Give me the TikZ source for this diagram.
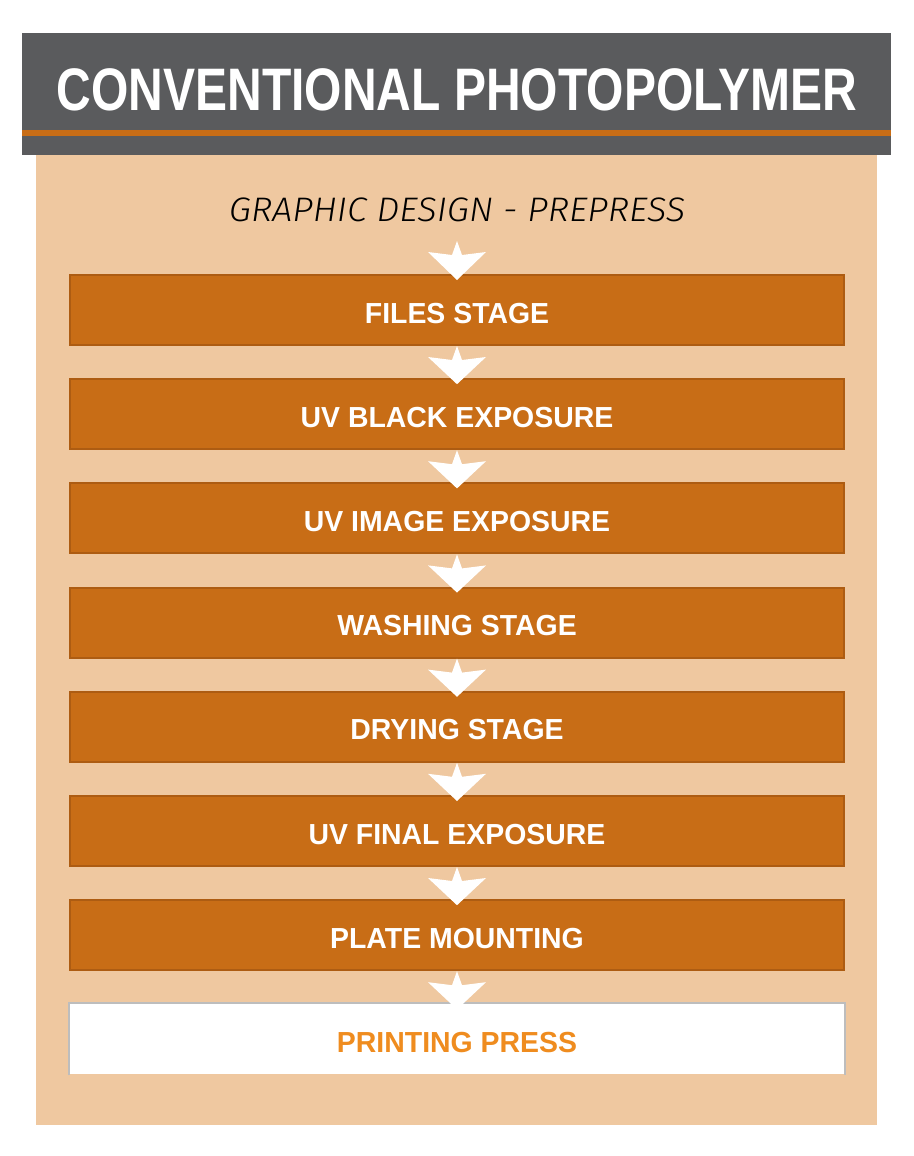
\documentclass[tikz,border=0pt]{standalone}
\usepackage{fontspec}
\setmainfont{Liberation Sans}
\newfontfamily\headfont{Liberation Sans Bold}[FakeStretch=0.80]
\newfontfamily\stagefont{Liberation Sans Bold}[FakeStretch=0.98]
\newfontfamily\subfont{Fira Sans Light Italic}[FakeStretch=1.06]
\usetikzlibrary{calc}
\definecolor{headgray}{HTML}{5A5B5D}
\definecolor{stageorange}{HTML}{C86D16}
\definecolor{stageedge}{HTML}{AD5C12}
\definecolor{panelbeige}{HTML}{EFC8A0}
\definecolor{pressorange}{HTML}{EF8C1F}
\definecolor{pressedge}{HTML}{BDBDBD}
\newcommand{\stagearrow}[2]{%
  \fill[white] (#1.south) -- ([shift={(5pt,-14pt)}]#1.south) -- ([shift={(29pt,-11pt)}]#1.south)
    -- ([shift={(0pt,-6pt)}]#2.north) -- ([shift={(-29pt,-11pt)}]#1.south)
    -- ([shift={(-5pt,-14pt)}]#1.south) -- cycle;}

\begin{document}
\begin{tikzpicture}[x=1pt,y=1pt,node distance=104.2pt,
                    stage/.style={draw=stageedge,line width=2pt,fill=stageorange,text=white,
                      minimum width=774pt,minimum height=70pt,text height=26pt,text depth=0pt,
                      font=\stagefont\fontsize{29}{29}\selectfont},
                    press/.style={stage,draw=none,fill=white,text=pressorange}]

  \useasboundingbox (0,0) rectangle (913,-1156);
  \fill[headgray] (22,-33) rectangle (891,-155);
  \fill[stageorange] (22,-130) rectangle (891,-136);
  \fill[panelbeige] (36,-155) rectangle (877,-1125);

  \node[text=white,font=\headfont\fontsize{60}{60}\selectfont] (title) at (457,-90) {CONVENTIONAL PHOTOPOLYMER};
  \node[font=\subfont\fontsize{34}{34}\selectfont,inner sep=0pt] (design) at (457,-209.5) {GRAPHIC DESIGN - PREPRESS};
  \coordinate (start) at (457,-241);

  \node[stage] (files)                   at (457,-310) {FILES STAGE};
  \node[stage] (black)  [below of=files]  {UV BLACK EXPOSURE};
  \node[stage] (image)  [below of=black]  {UV IMAGE EXPOSURE};
  \node[stage] (wash)   [below of=image]  {WASHING STAGE};
  \node[stage] (dry)    [below of=wash]   {DRYING STAGE};
  \node[stage] (final)  [below of=dry]    {UV FINAL EXPOSURE};
  \node[stage] (mount)  [below of=final]  {PLATE MOUNTING};
  \node[press] (press)  [below of=mount]  {PRINTING PRESS};
  \draw[pressedge,line width=2pt] (press.south west) -- (press.north west)
    -- (press.north east) -- (press.south east);

  \fill[white] (start) -- ([shift={(5pt,-14pt)}]start) -- ([shift={(29pt,-11pt)}]start)
    -- ([shift={(0pt,-6pt)}]files.north) -- ([shift={(-29pt,-11pt)}]start)
    -- ([shift={(-5pt,-14pt)}]start) -- cycle;
  \stagearrow{files}{black}
  \stagearrow{black}{image}
  \stagearrow{image}{wash}
  \stagearrow{wash}{dry}
  \stagearrow{dry}{final}
  \stagearrow{final}{mount}
  \stagearrow{mount}{press}

\end{tikzpicture}
\end{document}
